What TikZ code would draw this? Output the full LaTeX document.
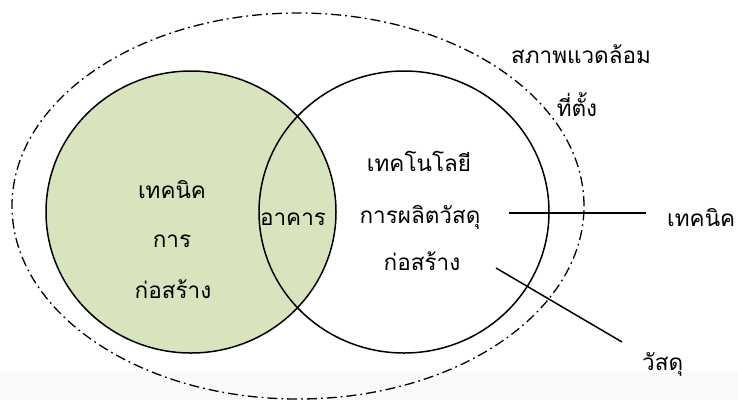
\documentclass[tikz,border=0pt]{standalone}
\usepackage{fontspec}
\newfontfamily\thaifont[Script=Thai]{Loma}
\usetikzlibrary{shapes.geometric}
\definecolor{leafgreen}{HTML}{D7E4BD}
\definecolor{paper}{HTML}{FAFAFA}
\tikzstyle{env} = [ellipse, draw=black, line width=1.3pt, dash pattern=on 10pt off 4pt on 1.8pt off 4pt, inner sep=0pt, minimum width=572pt, minimum height=386pt]
\tikzstyle{area} = [ellipse, draw=black, line width=1.5pt, inner sep=0pt, minimum width=290pt, minimum height=282pt]
\tikzstyle{txt} = [font=\thaifont\fontsize{22.5pt}{27pt}\selectfont, inner sep=0pt, anchor=base]
\tikzstyle{line} = [draw, line width=1.5pt]

\begin{document}
\begin{tikzpicture}[x=1pt, y=-1pt]
	\useasboundingbox (0,0) rectangle (738,400);
	\fill [paper] (0,372) rectangle (738,400);
	
	\node (outer) [env] at (298,206) {};
	\node (lcirc) [area, fill=leafgreen] at (191,212) {};
	\node (rcirc) [area] at (404,212) {};
	
	% left circle
	\node (l1) [txt] at (172,198) {เทคนิค};
	\node (l2) [txt] at (172,247) {การ};
	\node (l3) [txt] at (173,298) {ก่อสร้าง};
	
	\node (mid) [txt] at (293,225) {อาคาร};
	
	% right circle
	\node (r1) [txt] at (419,171) {เทคโนโลยี};
	\node (r2) [txt] at (420,223) {การผลิตวัสดุ};
	\node (r3) [txt] at (422,270) {ก่อสร้าง};
	
	\node (env1) [txt] at (581,63) {สภาพแวดล้อม};
	\node (env2) [txt] at (577,116) {ที่ตั้ง};
	
	\node (tech) [txt, anchor=base west] at (667,226) {เทคนิค};
	\node (mat) [txt, anchor=base west] at (642,370) {วัสดุ};
	
	\coordinate (t1) at (509,213);
	\coordinate (t2) at (646,213);
	\coordinate (m1) at (496,268);
	\coordinate (m2) at (622,342);
	
	\draw [line] (t1) -- (t2);
	\draw [line] (m1) -- (m2);
	
\end{tikzpicture}
\end{document}
